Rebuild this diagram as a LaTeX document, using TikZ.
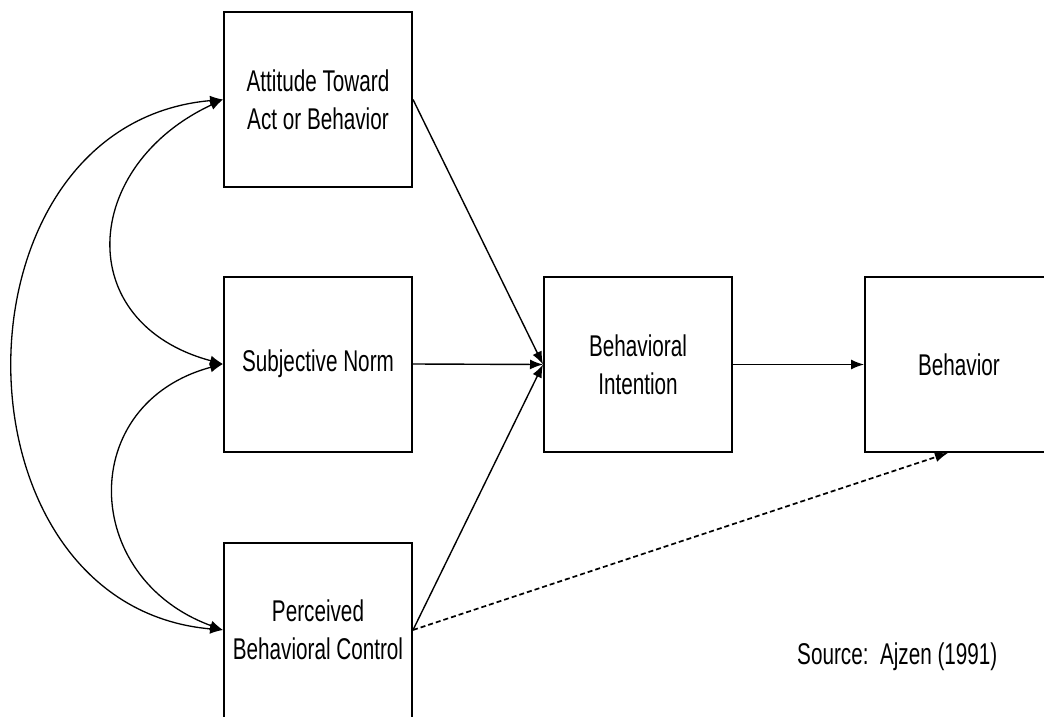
\documentclass[tikz,border=0pt]{standalone}
\usepackage{fontspec}
\setmainfont{Liberation Sans}[FakeStretch=0.69]
\usetikzlibrary{arrows.meta,calc}
\begin{document}
\begin{tikzpicture}[x=1pt,y=-1pt,
  txt/.style={font=\fontsize{30}{38}\selectfont},
  box/.style={txt, draw, line width=2pt, minimum width=188pt,
    minimum height=175pt, inner sep=0pt, align=center},
  link/.style={line width=1.4pt, -{Latex[length=13pt,width=10pt]}},
  corr/.style={line width=1.3pt,
    {Latex[length=13pt,width=10pt]}-{Latex[length=13pt,width=10pt]}},
  dashlink/.style={line width=1.7pt, dash pattern=on 5pt off 3pt,
    -{Latex[length=13pt,width=10pt]}},
]
\useasboundingbox (0,0) rectangle (1044,717);
\clip (0,0) rectangle (1044,717);

% predictors
\node[box] (att) at (318,99.5) {Attitude Toward\\Act or Behavior};
\node[box] (sn)  at (318,364)  {Subjective Norm};
\node[box] (pbc) at (318,630)  {Perceived\\Behavioral Control};

% intention and behaviour (the behaviour box runs off the right side)
\node[box] (bi)  at (638,364.5) {Behavioral\\Intention};
\node[box, minimum width=230pt, anchor=west] (beh) at (864,364.5)
  {\hspace*{-42pt}Behavior};

% correlations among the predictors
\draw[corr] (att.west) to[out=185,in=175,distance=280pt] (pbc.west);
\draw[corr] (att.west) to[out=205,in=165,distance=157pt] (sn.west);
\draw[corr] (sn.west)  to[out=195,in=160,distance=152pt] (pbc.west);

% paths
\draw[link] (att.east) -- (bi.west);
\draw[link] (sn.east)  -- (bi.west);
\draw[link] (pbc.east) -- (bi.west);
\draw[link] (bi.east)  -- (beh.west);
\draw[dashlink] (pbc.east) -- ($(beh.south west)+(84,0)$);

\node[txt, anchor=base west, inner sep=0pt] (src) at (797,664) {Source:\ \ Ajzen (1991)};
\end{tikzpicture}
\end{document}
